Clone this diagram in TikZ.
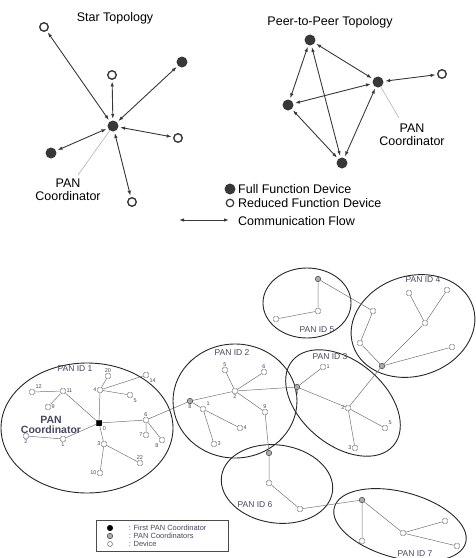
\documentclass[tikz,border=0pt]{standalone}
\usepackage{fontspec}
\setmainfont{Liberation Sans}
\usetikzlibrary{arrows.meta}
\colorlet{ffdc}{black!78}
\colorlet{wirec}{black!55}
\definecolor{idc}{RGB}{70,70,95}
\tikzset{pxp/.style={
  x=1pt,
  y=-1pt
}}
\tikzset{ffd/.style={
  circle,
  fill=ffdc,
  inner sep=0pt,
  minimum size=11pt,
}}
\tikzset{rfd/.style={
  circle,
  draw=ffdc,
  line width=1.4pt,
  fill=white,
  inner sep=0pt,
  minimum size=8.5pt,
}}
\tikzset{flow/.style={
  {Latex[length=5pt,width=3.5pt]}-{Latex[length=5pt,width=3.5pt]},
  draw=ffdc,
  line width=0.9pt,
  shorten >=1.5pt,
  shorten <=1.5pt,
}}
\tikzset{ldr/.style={draw=gray!70,line width=0.5pt}}
\tikzset{ttl/.style={font=\fontsize{12.5}{13}\selectfont,align=center,inner sep=0pt}}
\tikzset{dev/.style={
  draw=gray!70!black,
  fill=white,
  shape=rectangle,
  rounded corners=1.2pt,
  line width=0.45pt,
  inner sep=0pt,
  minimum size=5pt,
}}
\tikzset{pcn/.style={dev,shape=circle,fill=gray!65,draw=gray!45!black,minimum size=5.5pt}}
\tikzset{fpc/.style={dev,rounded corners=0.6pt,fill=black,draw=black,minimum size=5.5pt}}
\tikzset{lbl/.style={font=\fontsize{5.5}{5.5}\selectfont,text=idc,inner sep=0.6pt}}
\tikzset{idl/.style={font=\fontsize{8.5}{8.5}\selectfont,text=idc,inner sep=0pt}}
\tikzset{wire/.style={draw=wirec,line width=0.5pt}}
\tikzset{pan/.style={draw=black!85,line width=0.9pt}}

\begin{document}
\begin{tikzpicture}[pxp]
  \useasboundingbox (0,0) rectangle (475,558);
  % Star
  \node[ttl] (stt) at (115,18) {Star Topology};
  \node[ffd] (sc) at (113,126) {};
  \node[rfd] (s1) at (44,27) {};
  \node[rfd] (s2) at (112,75) {};
  \node[ffd] (s3) at (182,62) {};
  \node[rfd] (s4) at (178,138) {};
  \node[ffd] (s5) at (51,153) {};
  \node[rfd] (s6) at (132,202) {};
  \foreach \n in {s1,s2,s3,s4,s5,s6}
    \draw[flow] (sc) -- (\n);
  \node[ttl] (slab) at (68,190) {PAN\\Coordinator};
  \coordinate (sl) at (78,175);
  \draw[ldr] (sl) -- (sc);
  % Peer-to-peer
  \node[ttl] (ptt) at (330,22) {Peer-to-Peer Topology};
  \node[ffd] (pa) at (310,40) {};
  \node[ffd] (pb) at (378,82) {};
  \node[ffd] (pc) at (288,105) {};
  \node[ffd] (pd) at (342,163) {};
  \node[rfd] (pe) at (442,74) {};
  \draw[flow] (pa) -- (pb);
  \draw[flow] (pa) -- (pc);
  \draw[flow] (pa) -- (pd);
  \draw[flow] (pc) -- (pb);
  \draw[flow] (pc) -- (pd);
  \draw[flow] (pb) -- (pd);
  \draw[flow] (pb) -- (pe);
  \node[ttl] (plab) at (412,135) {PAN\\Coordinator};
  \coordinate (pl) at (399,118);
  \draw[ldr] (pl) -- (pb);
  % Legend
  \node[ffd] (lf) at (230,189) {};
  \node[rfd,minimum size=7.5pt,line width=1.2pt] (lr) at (230,203) {};
  \coordinate (fa) at (179,220);
  \coordinate (fb) at (229,220);
  \draw[flow,shorten >=0pt,shorten <=0pt] (fa) -- (fb);
  \node[ttl,anchor=west] (lft) at (238,189) {Full Function Device};
  \node[ttl,anchor=west] (lrt) at (238,203) {Reduced Function Device};
  \node[ttl,anchor=west] (lat) at (238,221) {Communication Flow};

  % PAN areas
  \draw[pan] (87,428) ellipse [x radius=86pt, y radius=65pt];
  \draw[pan] (235,401) ellipse [x radius=62pt, y radius=57pt];
  \draw[pan,rotate around={-40:(343,403)}] (343,403) ellipse [x radius=66pt, y radius=42pt];
  \draw[pan,rotate around={18:(413,326)}] (413,326) ellipse [x radius=63pt, y radius=50pt];
  \draw[pan] (307,303) ellipse [x radius=44pt, y radius=35pt];
  \draw[pan,rotate around={-8:(277,484)}] (277,484) ellipse [x radius=56pt, y radius=39pt];
  \draw[pan,rotate around={-15:(400,525)}] (400,525) ellipse [x radius=68pt, y radius=33pt];
  \node[idl] at (75,369) {PAN ID 1};
  \node[idl] at (232,353) {PAN ID 2};
  \node[idl] at (330,357) {PAN ID 3};
  \node[idl] at (423,280) {PAN ID 4};
  \node[idl] at (317,330) {PAN ID 5};
  \node[idl] at (255,505) {PAN ID 6};
  \node[idl] at (415,554) {PAN ID 7};
  \node[idl,font=\bfseries\fontsize{10.5}{10.5}\selectfont,align=center] (alab) at (51,425) {PAN\\Coordinator};

  % PAN ID 1
  \node[fpc,label={[lbl]below right:0}] (a0) at (99,423) {};
  \node[dev,label={[lbl]right:11}] (a11) at (63,391) {};
  \node[dev,label={[lbl]above right:12}] (a12) at (32,392) {};
  \node[dev,label={[lbl]right:9}] (a9) at (48,407) {};
  \node[dev,label={[lbl]left:4}] (a4) at (100,390) {};
  \node[dev,label={[lbl]above:20}] (a20) at (108,376) {};
  \node[dev,label={[lbl]below right:14}] (a14) at (146,375) {};
  \node[dev,label={[lbl]below right:5}] (a5) at (130,395) {};
  \node[dev,label={[lbl]above:6}] (a6) at (146,420) {};
  \node[dev,label={[lbl]left:7}] (a7) at (146,435) {};
  \node[dev,label={[lbl]below left:8}] (a8) at (162,440) {};
  \node[dev,label={[lbl]below:1}] (a1) at (63,439) {};
  \node[dev,label={[lbl]below:2}] (a2) at (26,436) {};
  \node[dev,label={[lbl]left:3}] (a3) at (104,444) {};
  \node[dev,label={[lbl]above:22}] (a22) at (140,463) {};
  \node[dev,label={[lbl]left:10}] (a10) at (100,473) {};
  \draw[wire] (a12) -- (a11) -- (a9);
  \foreach \n in {a11,a4,a6,a1,a3}
    \draw[wire] (a0) -- (\n);
  \foreach \n in {a20,a14,a5}
    \draw[wire] (a4) -- (\n);
  \draw[wire] (a7) -- (a6) -- (a8);
  \draw[wire] (a1) -- (a2);
  \draw[wire] (a22) -- (a3) -- (a10);

  % PAN ID 2
  \node[pcn,label={[lbl]below:8}] (b8) at (190,401) {};
  \node[dev,label={[lbl]above right:1}] (b1) at (203,409) {};
  \node[dev,label={[lbl]below:2}] (b2) at (235,391) {};
  \node[dev,label={[lbl]right:4}] (b4) at (240,428) {};
  \node[dev,label={[lbl]right:3}] (b3) at (214,444) {};
  \node[dev,label={[lbl]above:5}] (b5) at (225,370) {};
  \node[dev,label={[lbl]above:6}] (b6) at (264,372) {};
  \node[dev,label={[lbl]above:9}] (b9) at (265,412) {};
  \draw[wire] (a6) -- (b8) -- (b2);
  \draw[wire] (b8) -- (b1) -- (b4);
  \draw[wire] (b1) -- (b3);
  \foreach \n in {b5,b6,b9}
    \draw[wire] (b2) -- (\n);

  % PAN ID 3
  \node[pcn,label={[lbl]below:9}] (c9) at (297,387) {};
  \node[dev,label={[lbl]right:1}] (c1) at (323,367) {};
  \node[dev,label={[lbl]left:2}] (c2) at (348,408) {};
  \node[dev,label={[lbl]above right:5}] (c5) at (385,428) {};
  \node[dev,label={[lbl]left:3}] (c3) at (355,448) {};
  \draw[wire] (b2) -- (c9) -- (c1);
  \draw[wire] (c9) -- (c2) -- (c5);
  \draw[wire] (c2) -- (c3);

  % PAN ID 4
  \node[pcn] (d0) at (382,366) {};
  \node[dev] (d1) at (425,323) {};
  \node[dev] (d2) at (409,293) {};
  \node[dev] (d3) at (447,290) {};
  \node[dev] (d4) at (452,347) {};
  \node[dev] (d5) at (373,311) {};
  \node[dev] (d6) at (360,343) {};
  \draw[wire] (c2) -- (d0) -- (d1) -- (d2);
  \draw[wire] (d1) -- (d3);
  \draw[wire] (d0) -- (d4);
  \draw[wire] (d0) -- (d6) -- (d5);

  % PAN ID 5
  \node[pcn] (e0) at (318,279) {};
  \node[dev] (e1) at (318,311) {};
  \node[dev] (e2) at (276,319) {};
  \draw[wire] (d5) -- (e0) -- (e1) -- (e2);

  % PAN ID 6
  \node[pcn] (f0) at (269,453) {};
  \node[dev] (f1) at (269,483) {};
  \node[dev] (f2) at (300,509) {};
  \draw[wire] (b9) -- (f0) -- (f1) -- (f2);

  % PAN ID 7
  \node[pcn] (g0) at (362,500) {};
  \node[dev] (g1) at (362,541) {};
  \node[dev] (g2) at (403,533) {};
  \node[dev] (g3) at (445,521) {};
  \node[dev] (g4) at (457,546) {};
  \draw[wire] (f2) -- (g0) -- (g1);
  \draw[wire] (g0) -- (g2) -- (g3);
  \draw[wire] (g2) -- (g4);

  % Key
  \draw[draw=gray!60!black,line width=0.5pt] (96,520) rectangle (228,551);
  \node[fpc,shape=circle] (kf) at (110,528) {};
  \node[pcn] (kp) at (110,536) {};
  \node[dev,shape=circle] (kd) at (110,544) {};
  \node[lbl,font=\fontsize{7.5}{7.5}\selectfont,anchor=west] at (128,528) {: First PAN Coordinator};
  \node[lbl,font=\fontsize{7.5}{7.5}\selectfont,anchor=west] at (128,536) {: PAN Coordinators};
  \node[lbl,font=\fontsize{7.5}{7.5}\selectfont,anchor=west] at (128,544) {: Device};
\end{tikzpicture}
\end{document}
